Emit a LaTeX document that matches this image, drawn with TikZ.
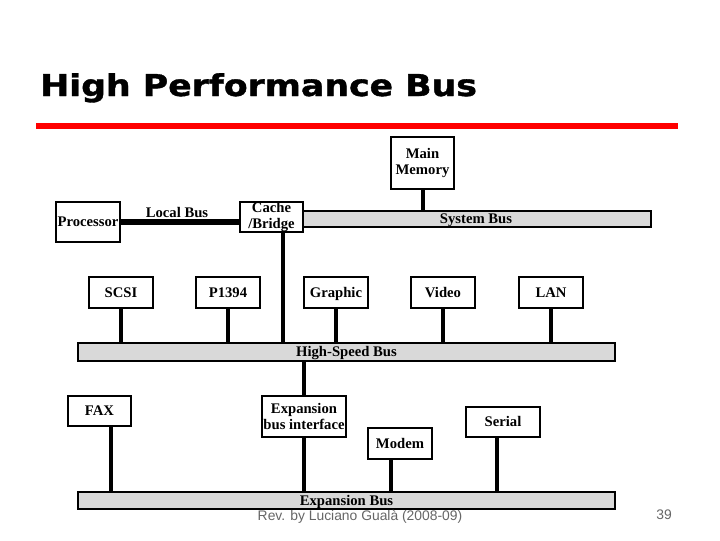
\documentclass[tikz,border=0pt]{standalone}
\usepackage{fontspec}
\setmainfont{Liberation Serif}
\newfontfamily\titlefont[FakeBold=1.2]{DejaVu Sans Bold}
\newfontfamily\footfont{Liberation Sans}
\usetikzlibrary{positioning}

\begin{document}
\begin{tikzpicture}[
  x=0.75pt, y=-0.75pt,
  every node/.style={font=\bfseries\fontsize{11}{11.5}\selectfont},
  unit/.style={rectangle, draw, line width=1.8pt, fill=white, inner sep=0pt, align=center},
  bus/.style={rectangle, draw, line width=1.8pt, fill=black!15, inner sep=0pt, oneline},
  oneline/.style={text height=9.35pt, text depth=2.2pt},
  sz/.style 2 args={minimum width=#1*0.75pt, minimum height=#2*0.75pt},
  link/.style={line width=3pt},
]
\useasboundingbox (0,0) rectangle (720,540);

\node[anchor=base west, inner sep=0pt, font=\titlefont\fontsize{22.5}{26}\selectfont] (title) at (40,96) {\scalebox{1.156}[1]{High Performance Bus}};
\draw[red, line width=4.5pt] (36,126) -- (678,126);

\node[unit, sz={63}{52}] (mem) at (422.5,163) {Main\\Memory};
\node[bus, sz={350}{16}] (sysbus) at (476,219) {System Bus};
\node[unit, oneline, sz={64}{40}] (proc) at (88,222) {Processor};
\node[unit, sz={63}{30}] (cache) at (271.5,217) {Cache\\/Bridge};
\node (localbus) at (177,212) {Local Bus};

\node[unit, oneline, sz={64}{31}] (scsi) at (121,292.5) {SCSI};
\node[unit, oneline, sz={64}{31}] (p1394) at (228,292.5) {P1394};
\node[unit, oneline, sz={64}{31}] (graphic) at (336,292.5) {Graphic};
\node[unit, oneline, sz={64}{31}] (video) at (443,292.5) {Video};
\node[unit, oneline, sz={64}{31}] (lan) at (551,292.5) {LAN};
\node[bus, sz={537}{18}] (hsbus) at (346.5,352) {High-Speed Bus};

\node[unit, oneline, sz={63}{30}] (fax) at (99.5,411) {FAX};
\node[unit, sz={84}{41}] (iface) at (304,416.5) {Expansion\\bus interface};
\node[unit, oneline, sz={64}{31}] (modem) at (400,443.5) {Modem};
\node[unit, oneline, sz={74}{30}] (serial) at (503,422) {Serial};
\node[bus, sz={537}{17}] (expbus) at (346.5,500.5) {Expansion Bus};

\draw[line width=4.5pt] (proc.east) -- (proc.east -| cache.west);
\draw[link] (mem.south) -- (mem.south |- sysbus.north);
\draw[link] ([xshift=8.6pt]cache.south) -- ([xshift=8.6pt]cache.south |- hsbus.north);
\draw[link] (scsi.south) -- (scsi.south |- hsbus.north);
\draw[link] (p1394.south) -- (p1394.south |- hsbus.north);
\draw[link] (graphic.south) -- (graphic.south |- hsbus.north);
\draw[link] (video.south) -- (video.south |- hsbus.north);
\draw[link] (lan.south) -- (lan.south |- hsbus.north);
\draw[link] (iface.north |- hsbus.south) -- (iface.north);
\draw[link] ([xshift=8.6pt]fax.south) -- ([xshift=8.6pt]fax.south |- expbus.north);
\draw[link] (iface.south) -- (iface.south |- expbus.north);
\draw[link] ([xshift=-6.75pt]modem.south) -- ([xshift=-6.75pt]modem.south |- expbus.north);
\draw[link] ([xshift=-4.5pt]serial.south) -- ([xshift=-4.5pt]serial.south |- expbus.north);

\node[font=\footfont\fontsize{10.4}{12}\selectfont, text=black!60] (rev) at (360,517) {Rev. by Luciano Gualà (2008-09)};
\node[font=\footfont\fontsize{10.4}{12}\selectfont, text=black!60] (page) at (664,515) {39};
\end{tikzpicture}
\end{document}
